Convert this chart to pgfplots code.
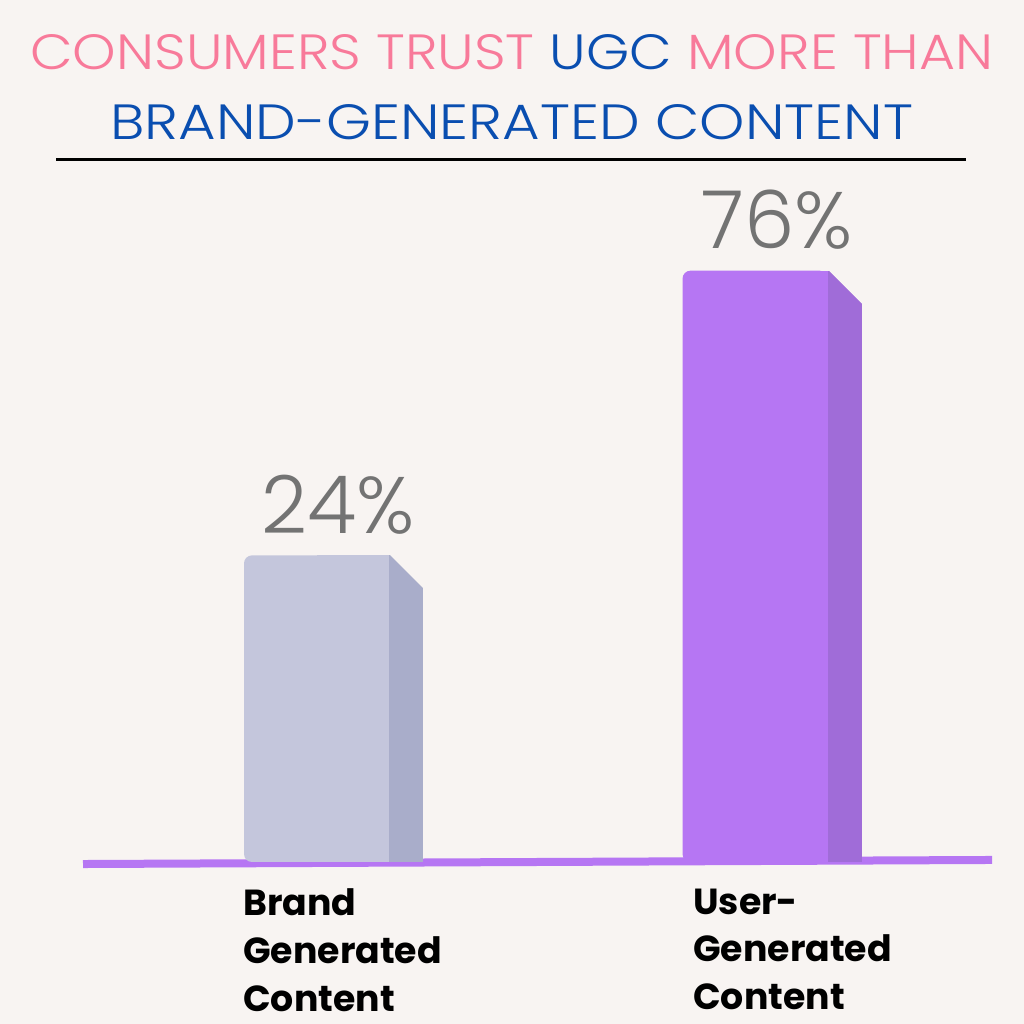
\documentclass[border=0pt]{standalone}
\usepackage{pgfplots}
\pgfplotsset{compat=1.18}
\usepackage{pgfplotstable}
\usepackage{fontspec}
\setmainfont{Poppins}
\newfontfamily\thinfont{Poppins Light}
\definecolor{bg}{HTML}{F8F4F2}
\definecolor{pinkt}{HTML}{F87A9A}
\definecolor{bluet}{HTML}{0A4EB0}
\definecolor{grayt}{HTML}{737373}
\definecolor{bfront}{HTML}{C4C6DC}
\definecolor{bside}{HTML}{A9ADCA}
\definecolor{ufront}{HTML}{B676F3}
\definecolor{uside}{HTML}{A06CD8}
\definecolor{baseln}{HTML}{B676F3}

\pgfdeclareplotmark{cut}{%
  \pgfpathmoveto{\pgfpoint{18.1mm}{0.4mm}}%
  \pgfpathlineto{\pgfpoint{27.0mm}{0.4mm}}%
  \pgfpathlineto{\pgfpoint{27.0mm}{-8.5mm}}%
  \pgfpathclose
  \pgfusepathqfill}

% category position, value (%)
\pgfplotstableread{
x v
0 24
}\brandtab
\pgfplotstableread{
x v
1 76
}\usertab

\begin{document}
\begin{tikzpicture}[x=0.25mm,y=0.25mm]
\clip (0,0) rectangle (1024,1024);
\fill[bg] (0,0) rectangle (1024,1024);
\node[anchor=base west, inner sep=0] at (30,954)
  {\resizebox{240.75mm}{8.75mm}{\thinfont\fontsize{40}{40}\selectfont\color{pinkt}CONSUMERS TRUST \color{bluet}UGC \color{pinkt}MORE THAN}};
\node[anchor=base west, inner sep=0] at (110,884)
  {\resizebox{200.75mm}{8.75mm}{\thinfont\fontsize{40}{40}\selectfont\color{bluet}BRAND-GENERATED CONTENT}};
\draw[black, line width=0.75mm] (56,864) -- (966,864);
\begin{axis}[
  at={(20.75mm,40.5mm)}, anchor=south west,
  scale only axis, width=227.25mm, height=175.2mm,
  xmin=-0.5325, xmax=1.5405, ymin=0, ymax=128,
  clip=false,
  axis line style={draw=none}, tick style={draw=none}, major tick length=0,
  ytick=\empty,
  xtick={-0.1676,0.8586},
  xticklabels={{Brand\\Generated\\Content},{User-\\Generated\\Content}},
  xticklabel style={anchor=north west, align=left, inner sep=0, yshift=-6.6mm,
    font=\bfseries\fontsize{25.8}{34}\selectfont, text=black},
  /pgf/number format/assume math mode=true,
  nodes near coords={\pgfmathprintnumber{\pgfplotspointmeta}\%},
  nodes near coords align={anchor=base},
  every node near coord/.append style={anchor=base, yshift=5.5mm, xshift=5.5mm,
    text=grayt, font=\thinfont\fontsize{57}{57}\selectfont, inner sep=0},
]
\draw[baseln, line width=2mm] (axis cs:-0.5325,-0.37) -- (axis cs:1.5405,0.37);
% Brand-generated content bar
\addplot[ybar, bar width=0.3307, bar shift=0, fill=bfront, draw=none, rounded corners=2mm,
  point meta=explicit] table[x=x, y expr=\thisrow{v}+32, meta=v] {\brandtab};
\addplot[ybar, bar width=0.16535, bar shift=0.0827, fill=bfront, draw=none, nodes near coords={}]
  table[x=x, y expr=\thisrow{v}+32] {\brandtab};
\addplot[ybar, bar width=0.0775, bar shift=0.2041, fill=bside, draw=none, nodes near coords={}]
  table[x=x, y expr=\thisrow{v}+32] {\brandtab};
\addplot[only marks, mark=cut, color=bg, mark options={fill=bg, draw=none}, nodes near coords={}]
  table[x=x, y expr=\thisrow{v}+32] {\brandtab};
% User-generated content bar
\addplot[ybar, bar width=0.3307, bar shift=0, fill=ufront, draw=none, rounded corners=2mm,
  point meta=explicit] table[x=x, y expr=\thisrow{v}+32, meta=v] {\usertab};
\addplot[ybar, bar width=0.16535, bar shift=0.0827, fill=ufront, draw=none, nodes near coords={}]
  table[x=x, y expr=\thisrow{v}+32] {\usertab};
\addplot[ybar, bar width=0.0775, bar shift=0.2041, fill=uside, draw=none, nodes near coords={}]
  table[x=x, y expr=\thisrow{v}+32] {\usertab};
\addplot[only marks, mark=cut, color=bg, mark options={fill=bg, draw=none}, nodes near coords={}]
  table[x=x, y expr=\thisrow{v}+32] {\usertab};
\end{axis}
\end{tikzpicture}
\end{document}
